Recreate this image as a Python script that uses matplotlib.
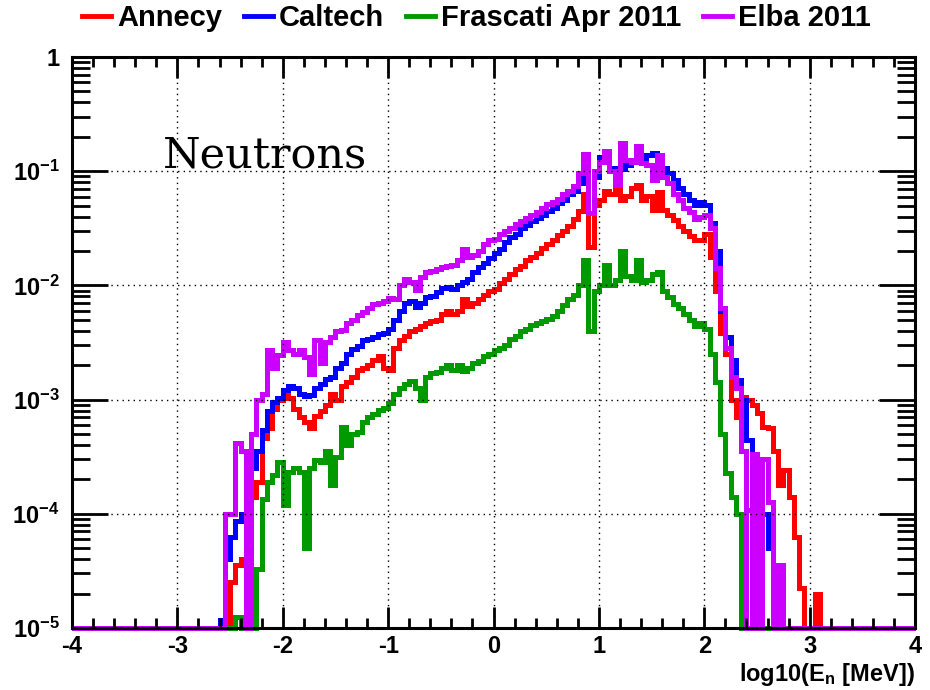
import matplotlib
matplotlib.use("Agg")
import matplotlib.pyplot as plt
import numpy as np
from matplotlib.ticker import MultipleLocator, LogLocator, NullFormatter

plt.rcParams['font.family'] = ['Liberation Sans', 'DejaVu Sans']
plt.rcParams['font.weight'] = 'bold'
plt.rcParams['axes.labelweight'] = 'bold'
plt.rcParams['axes.unicode_minus'] = False
plt.rcParams['mathtext.fontset'] = 'custom'
plt.rcParams['mathtext.rm'] = 'Liberation Sans:bold'
plt.rcParams['mathtext.it'] = 'Liberation Sans:bold'
plt.rcParams['mathtext.bf'] = 'Liberation Sans:bold'

# histogram binning: log10(E) from -4 to 4, 0.05 wide bins
bin_width = 0.05
first_filled = -2.6  # left edge of the first non-empty region

# log10 of bin contents, from x = -2.6 upward (115 bins)
# -5 means an empty bin (drawn on the 1e-5 floor)
annecy_log = [
    -5.00, -5.00, -4.60, -4.45, -4.40, -5.00, -3.85, -3.72, -3.34, -3.25,
    -3.08, -3.00, -2.96, -2.99, -3.08, -3.15, -3.20, -3.25, -3.14, -3.10,
    -3.05, -2.95, -3.00, -2.88, -2.85, -2.80, -2.74, -2.72, -2.70, -2.65,
    -2.62, -2.72, -2.74, -2.55, -2.48, -2.44, -2.40, -2.38, -2.36, -2.33,
    -2.31, -2.30, -2.25, -2.22, -2.25, -2.22, -2.12, -2.18, -2.15, -2.12,
    -2.08, -2.05, -2.03, -1.98, -1.94, -1.90, -1.86, -1.83, -1.78, -1.75,
    -1.72, -1.67, -1.64, -1.60, -1.56, -1.52, -1.48, -1.42, -1.35, -1.20,
    -1.66, -1.30, -1.25, -1.17, -1.20, -1.08, -1.25, -1.22, -1.15, -1.12,
    -1.25, -1.22, -1.34, -1.18, -1.34, -1.38, -1.43, -1.48, -1.52, -1.57,
    -1.60, -1.60, -1.55, -1.75, -2.05, -2.42, -2.60, -3.00, -3.15, -2.98,
    -3.00, -3.05, -3.12, -3.24, -3.25, -3.45, -3.75, -3.62, -3.85, -4.20,
    -4.65, -5.00, -5.00, -4.70, -5.00,
]
caltech_log = [
    -4.93, -4.40, -4.20, -4.06, -4.00, -5.00, -3.60, -3.45, -3.27, -3.10,
    -3.02, -2.99, -2.92, -2.88, -2.90, -2.95, -2.97, -2.96, -2.90, -2.86,
    -2.82, -2.80, -2.72, -2.68, -2.60, -2.56, -2.53, -2.48, -2.47, -2.45,
    -2.43, -2.42, -2.38, -2.30, -2.22, -2.15, -2.14, -2.19, -2.15, -2.10,
    -2.09, -2.06, -2.02, -2.01, -2.03, -2.00, -1.97, -1.94, -1.88, -1.84,
    -1.80, -1.76, -1.72, -1.68, -1.62, -1.58, -1.55, -1.50, -1.47, -1.44,
    -1.41, -1.38, -1.35, -1.32, -1.28, -1.25, -1.20, -1.17, -1.10, -1.00,
    -1.37, -1.05, -0.88, -0.90, -0.97, -1.02, -0.98, -0.95, -0.92, -0.90,
    -0.90, -0.86, -0.84, -0.87, -0.97, -1.02, -1.08, -1.15, -1.20, -1.25,
    -1.30, -1.27, -1.30, -1.45, -1.70, -2.22, -2.45, -2.65, -2.83, -3.00,
    -3.35, -3.50, -3.60, -4.00, -4.30, -4.45, -4.60, -5.00, -5.00, -5.00,
    -5.00, -5.00, -5.00, -5.00, -5.00,
]
frascati_log = [
    -5.00, -5.00, -5.00, -4.90, -5.00, -5.00, -5.00, -4.48, -3.87, -3.72,
    -3.66, -3.55, -3.92, -3.63, -3.60, -3.63, -4.30, -3.60, -3.53, -3.55,
    -3.45, -3.75, -3.50, -3.24, -3.40, -3.30, -3.28, -3.20, -3.15, -3.13,
    -3.09, -3.07, -3.03, -2.95, -2.90, -2.86, -2.84, -2.90, -3.00, -2.80,
    -2.77, -2.76, -2.72, -2.70, -2.74, -2.70, -2.75, -2.72, -2.68, -2.66,
    -2.62, -2.60, -2.57, -2.55, -2.52, -2.47, -2.44, -2.40, -2.38, -2.35,
    -2.33, -2.31, -2.29, -2.27, -2.22, -2.17, -2.12, -2.08, -2.00, -1.78,
    -2.40, -2.05, -2.00, -1.82, -2.00, -1.95, -1.70, -1.92, -1.95, -1.78,
    -1.97, -1.95, -1.90, -1.88, -2.05, -2.10, -2.16, -2.20, -2.25, -2.30,
    -2.36, -2.33, -2.38, -2.60, -2.85, -3.30, -3.64, -3.85, -4.00, -5.00,
    -3.97, -4.45, -5.00, -5.00, -5.00, -5.00, -5.00, -5.00, -5.00, -5.00,
    -5.00, -5.00, -5.00, -5.00, -5.00,
]
elba_log = [
    -5.00, -4.00, -4.00, -3.38, -3.45, -5.00, -3.30, -3.00, -2.95, -2.57,
    -2.72, -2.61, -2.50, -2.57, -2.60, -2.57, -2.63, -2.78, -2.48, -2.68,
    -2.50, -2.45, -2.40, -2.39, -2.33, -2.30, -2.26, -2.23, -2.20, -2.16,
    -2.15, -2.14, -2.11, -2.12, -2.00, -1.94, -1.97, -2.04, -1.93, -1.88,
    -1.87, -1.86, -1.84, -1.83, -1.82, -1.78, -1.68, -1.75, -1.73, -1.70,
    -1.64, -1.60, -1.59, -1.55, -1.52, -1.50, -1.46, -1.44, -1.41, -1.38,
    -1.36, -1.32, -1.29, -1.27, -1.24, -1.20, -1.17, -1.13, -1.02, -0.85,
    -1.37, -1.00, -0.92, -0.82, -1.00, -1.12, -0.75, -0.90, -0.92, -0.78,
    -0.93, -0.95, -1.08, -0.86, -1.05, -1.10, -1.20, -1.25, -1.32, -1.36,
    -1.42, -1.40, -1.38, -1.50, -1.85, -2.20, -2.55, -2.80, -2.90, -3.45,
    -5.00, -3.48, -5.00, -3.52, -3.90, -5.00, -4.45, -5.00, -5.00, -5.00,
    -5.00, -5.00, -5.00, -5.00, -5.00,
]

series_names = ['Annecy', 'Caltech', 'Frascati Apr 2011', 'Elba 2011']
series_colors = ['#ff0000', '#0000ff', '#009900', '#cc00ff']
series_logs = [annecy_log, caltech_log, frascati_log, elba_log]

y_tick_values = [1e-5, 1e-4, 1e-3, 1e-2, 1e-1, 1]
y_tick_labels = [r'$10^{-5}$', r'$10^{-4}$', r'$10^{-3}$', r'$10^{-2}$', r'$10^{-1}$', '1']

edges = np.round(np.arange(-4, 4 + bin_width / 2, bin_width), 4)
n_bins = len(edges) - 1
start = int(round((first_filled + 4) / bin_width))

fig = plt.figure(figsize=(9.3, 6.9), dpi=100)
ax = fig.add_axes([0.0774, 0.0899, 0.9066, 0.8275])

for name, color, logs in zip(series_names, series_colors, series_logs):
    full = np.full(n_bins, -5.0)
    full[start:start + len(logs)] = logs
    ax.stairs(10 ** full, edges, baseline=None, color=color, lw=3.6,
              clip_on=False, label=name)

ax.set_xlim(-4, 4)
ax.set_yscale('log')
ax.set_ylim(1e-5, 1)

ax.xaxis.set_major_locator(MultipleLocator(1))
ax.xaxis.set_minor_locator(MultipleLocator(0.2))
ax.set_yticks(y_tick_values)
ax.set_yticklabels(y_tick_labels)
ax.yaxis.set_minor_locator(LogLocator(base=10, subs=np.arange(2, 10)))
ax.yaxis.set_minor_formatter(NullFormatter())

ax.tick_params(axis='both', which='both', direction='in', top=True, right=True,
               width=2, labelsize=17)
ax.tick_params(axis='x', which='major', length=15, pad=5)
ax.tick_params(axis='x', which='minor', length=7)
ax.tick_params(axis='y', which='major', length=26, pad=9)
ax.tick_params(axis='y', which='minor', length=13)
for sp in ax.spines.values():
    sp.set_linewidth(2.2)

ax.grid(True, which='major', color='black', linestyle=(0, (1, 3)), linewidth=1)

ax.set_xlabel(r'log10(E$_{n}$ [MeV])', loc='right', fontsize=17, labelpad=2)

ax.text(0.108, 0.807, 'Neutrons', transform=ax.transAxes, family='DejaVu Serif',
        fontweight='normal', fontsize=31, va='baseline', ha='left')

leg_handles = [plt.Line2D([], [], color=c, lw=3.5) for c in series_colors]
fig.legend(leg_handles, series_names, loc='center left', bbox_to_anchor=(0.088, 0.974),
           ncol=4, frameon=False, fontsize=21, handlelength=1.0, handletextpad=0.2,
           columnspacing=0.75, borderpad=0, borderaxespad=0)

plt.savefig('out.png', dpi=100)
